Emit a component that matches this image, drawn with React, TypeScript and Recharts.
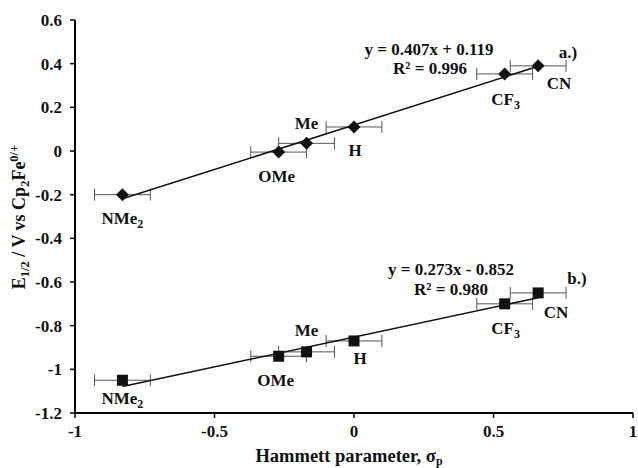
import { ScatterChart, Scatter, XAxis, YAxis, ErrorBar } from "recharts";

const labels = ["NMe2", "OMe", "Me", "H", "CF3", "CN"];
const sigma = [-0.83, -0.27, -0.17, 0, 0.54, 0.66];
const sigmaErr = [0.1, 0.1, 0.1, 0.1, 0.1, 0.1];
const e12A = [-0.2, -0.005, 0.035, 0.11, 0.353, 0.39];
const e12B = [-1.05, -0.94, -0.92, -0.87, -0.7, -0.65];

// trend line end points
const fitX = [-0.83, 0.66];
const fitA = [-0.219, 0.388];
const fitB = [-1.079, -0.672];

const xTicks = [-1, -0.5, 0, 0.5, 1];
const yTicks = [0.6, 0.4, 0.2, 0, -0.2, -0.4, -0.6, -0.8, -1, -1.2];

const seriesA = sigma.map((x, i) => ({ x, y: e12A[i], err: sigmaErr[i], label: labels[i] }));
const seriesB = sigma.map((x, i) => ({ x, y: e12B[i], err: sigmaErr[i], label: labels[i] }));
const lineA = fitX.map((x, i) => ({ x, y: fitA[i] }));
const lineB = fitX.map((x, i) => ({ x, y: fitB[i] }));

// label placement relative to the marker centre
const offsetsA: Record<string, [number, number]> = {
  NMe2: [0, 23], OMe: [-2, 24], Me: [0, -20], H: [1, 23], CF3: [1, 25], CN: [21, 17],
};
const offsetsB: Record<string, [number, number]> = {
  NMe2: [0, 18], OMe: [-3, 24], Me: [0, -22], H: [6, 17], CF3: [1, 24], CN: [18, 19],
};

const font = "'Liberation Serif', 'Times New Roman', serif";
const txt = { fontFamily: font, fontWeight: 700, fontSize: 17, fill: "#111" };

function SubLabel({ x, y, text }: { x: number; y: number; text: string }) {
  const parts = text.split(/(\d)/).filter(Boolean);
  return (
    <text x={x} y={y} textAnchor="middle" {...txt}>
      {parts.map((p, i) =>
        /\d/.test(p) ? (
          <tspan key={i} fontSize={12} dy={4}>{p}</tspan>
        ) : (
          <tspan key={i} dy={i > 0 ? -4 : 0}>{p}</tspan>
        )
      )}
    </text>
  );
}

const diamond = (offsets: Record<string, [number, number]>) => (props: any) => {
  const { cx, cy, payload } = props;
  const s = 6.5;
  const [dx, dy] = offsets[payload.label];
  return (
    <g>
      <path d={`M${cx},${cy - s}L${cx + s},${cy}L${cx},${cy + s}L${cx - s},${cy}Z`} fill="#111" />
      <SubLabel x={cx + dx} y={cy + dy + 6} text={payload.label} />
    </g>
  );
};

const square = (offsets: Record<string, [number, number]>) => (props: any) => {
  const { cx, cy, payload } = props;
  const s = 5.5;
  const [dx, dy] = offsets[payload.label];
  return (
    <g>
      <rect x={cx - s} y={cy - s} width={2 * s} height={2 * s} fill="#111" />
      <SubLabel x={cx + dx} y={cy + dy + 6} text={payload.label} />
    </g>
  );
};

const noDot = () => <g />;

export default function App() {
  return (
    <div style={{ position: "absolute", left: 0, top: 0, background: "#fff" }}>
      <ScatterChart width={638} height={468} margin={{ top: 20, right: 5, bottom: 15, left: 15 }}>
        <XAxis
          type="number"
          dataKey="x"
          domain={[-1, 1]}
          ticks={xTicks}
          axisLine={{ stroke: "#000", strokeWidth: 2 }}
          tickLine={{ stroke: "#000", strokeWidth: 1.5 }}
          tickSize={5}
          tickMargin={7}
          tick={{ ...txt, fontSize: 17 }}
          height={40}
        />
        <YAxis
          type="number"
          dataKey="y"
          domain={[-1.2, 0.6]}
          ticks={yTicks}
          axisLine={{ stroke: "#000", strokeWidth: 2 }}
          tickLine={{ stroke: "#000", strokeWidth: 1.5 }}
          tickSize={5}
          tickMargin={8}
          tick={{ ...txt, fontSize: 17 }}
          width={60}
        />
        <Scatter data={lineA} line={{ stroke: "#111", strokeWidth: 1.6 }} shape={noDot} isAnimationActive={false} />
        <Scatter data={lineB} line={{ stroke: "#111", strokeWidth: 1.6 }} shape={noDot} isAnimationActive={false} />
        <Scatter data={seriesA} shape={diamond(offsetsA)} isAnimationActive={false}>
          <ErrorBar dataKey="err" direction="x" width={6} stroke="#555" strokeWidth={1} isAnimationActive={false} />
        </Scatter>
        <Scatter data={seriesB} shape={square(offsetsB)} isAnimationActive={false}>
          <ErrorBar dataKey="err" direction="x" width={6} stroke="#555" strokeWidth={1} isAnimationActive={false} />
        </Scatter>
        <g>
          <text x={429} y={55} textAnchor="middle" {...txt}>y = 0.407x + 0.119</text>
          <text x={430} y={74} textAnchor="middle" {...txt}>R² = 0.996</text>
          <text x={568} y={58} textAnchor="middle" {...txt}>a.)</text>
          <text x={451} y={275} textAnchor="middle" {...txt}>y = 0.273x - 0.852</text>
          <text x={451} y={295} textAnchor="middle" {...txt}>R² = 0.980</text>
          <text x={577} y={284} textAnchor="middle" {...txt}>b.)</text>
          <text x={349} y={462} textAnchor="middle" {...txt} fontSize={18.5}>
            Hammett parameter, σ<tspan fontSize={12} dy={3}>p</tspan>
          </text>
          <text x={25} y={217} textAnchor="middle" transform="rotate(-90 25 217)" {...txt} fontSize={18}>
            E<tspan fontSize={12.5} dy={4}>1/2</tspan>
            <tspan dy={-4}> / V vs Cp</tspan>
            <tspan fontSize={12.5} dy={4}>2</tspan>
            <tspan dy={-4}>Fe</tspan>
            <tspan fontSize={12.5} dy={-7}>0/+</tspan>
          </text>
        </g>
      </ScatterChart>
    </div>
  );
}
